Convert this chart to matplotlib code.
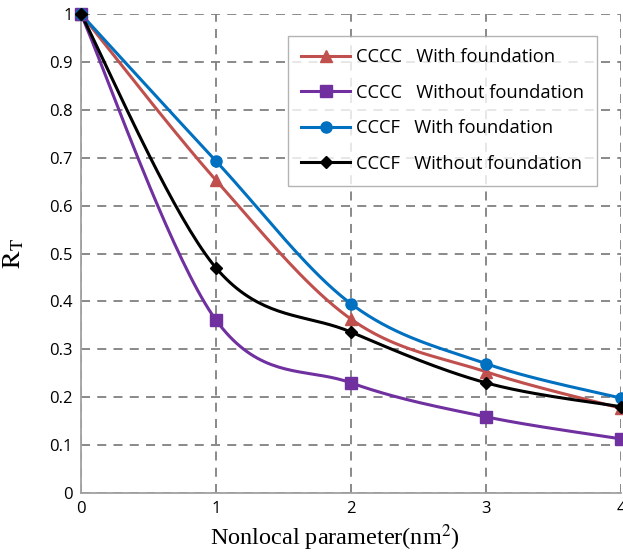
import numpy as np
import matplotlib
matplotlib.use("Agg")
import matplotlib.pyplot as plt
from matplotlib.lines import Line2D

plt.rcParams["mathtext.fontset"] = "stix"

x_vals = [0, 1, 2, 3, 4]
cccc_with = [1.0, 0.653, 0.363, 0.253, 0.177]
cccc_without = [1.0, 0.361, 0.230, 0.159, 0.113]
cccf_with = [1.0, 0.693, 0.395, 0.270, 0.198]
cccf_without = [1.0, 0.470, 0.336, 0.230, 0.180]

labels = ["CCCC   With foundation", "CCCC   Without foundation",
          "CCCF   With foundation", "CCCF   Without foundation"]
colors = ["#C0504D", "#7030A0", "#0070C0", "#000000"]
markers = ["^", "s", "o", "D"]
msizes = [8, 8, 8, 6]


def smooth(xs, ys, n=40):
    """Cubic Bezier smoothing through the points (spreadsheet style)."""
    p = np.column_stack([xs, ys]).astype(float)
    pts = np.vstack([p[0], p, p[-1]])
    out = []
    for i in range(1, len(pts) - 2):
        p0, p1, p2, p3 = pts[i - 1], pts[i], pts[i + 1], pts[i + 2]
        c1 = p1 + (p2 - p0) / 6.0
        c2 = p2 - (p3 - p1) / 6.0
        t = np.linspace(0, 1, n)[:, None]
        seg = ((1 - t) ** 3) * p1 + 3 * ((1 - t) ** 2) * t * c1 \
            + 3 * (1 - t) * t ** 2 * c2 + t ** 3 * p2
        out.append(seg if i == 1 else seg[1:])
    s = np.vstack(out)
    return s[:, 0], s[:, 1]


fig = plt.figure(figsize=(6.23, 5.53), dpi=100)
ax = fig.add_axes([0.130, 0.1085, 0.867, 0.866])

series = [cccc_with, cccc_without, cccf_with, cccf_without]
handles = []
for ys, c, m, ms, lab in zip(series, colors, markers, msizes, labels):
    sx, sy = smooth(x_vals, ys)
    ax.plot(sx, sy, color=c, lw=2.2, clip_on=False, zorder=3)
    ax.plot(x_vals, ys, ls="none", marker=m, ms=ms, color=c,
            clip_on=False, zorder=4)
    handles.append(Line2D([], [], color=c, lw=2.2, marker=m, ms=ms, label=lab))

ax.set_xlim(0, 4)
ax.set_ylim(0, 1)
ax.set_xticks([0, 1, 2, 3, 4])
ax.set_yticks(np.round(np.arange(0, 1.01, 0.1), 1))
ax.set_yticklabels(["0", "0.1", "0.2", "0.3", "0.4", "0.5", "0.6", "0.7",
                    "0.8", "0.9", "1"])
ax.grid(True, color="#808080", ls=(0, (5, 4)), lw=1.3)
ax.set_axisbelow(True)
for side in ["top", "right"]:
    ax.spines[side].set_visible(False)
for side in ["left", "bottom"]:
    ax.spines[side].set_color("#A0A0A0")
    ax.spines[side].set_linewidth(1.3)
ax.tick_params(length=0, labelsize=12, pad=6)
for t in ax.get_xticklabels() + ax.get_yticklabels():
    t.set_fontfamily("Open Sans")

ax.set_xlabel("Nonlocal parameter(nm$^2$)", family="Liberation Serif",
              fontsize=17.5)
ax.xaxis.set_label_coords(0.47, -0.062, transform=ax.transAxes)
ax.xaxis.label.set_va("top")
ax.set_ylabel("$\\mathrm{R}_\\mathrm{T}$", fontsize=19, labelpad=16)

leg = ax.legend(handles=handles, loc="upper right",
                bbox_to_anchor=(0.955, 0.955), frameon=True, fancybox=False,
                prop={"family": "Open Sans", "size": 13.2},
                handlelength=2.7, labelspacing=0.95, borderpad=0.7,
                handletextpad=0.3, borderaxespad=0.0)
leg.get_frame().set_edgecolor("#A0A0A0")
leg.get_frame().set_linewidth(1.0)

fig.savefig("out.png", dpi=100, facecolor="white")
